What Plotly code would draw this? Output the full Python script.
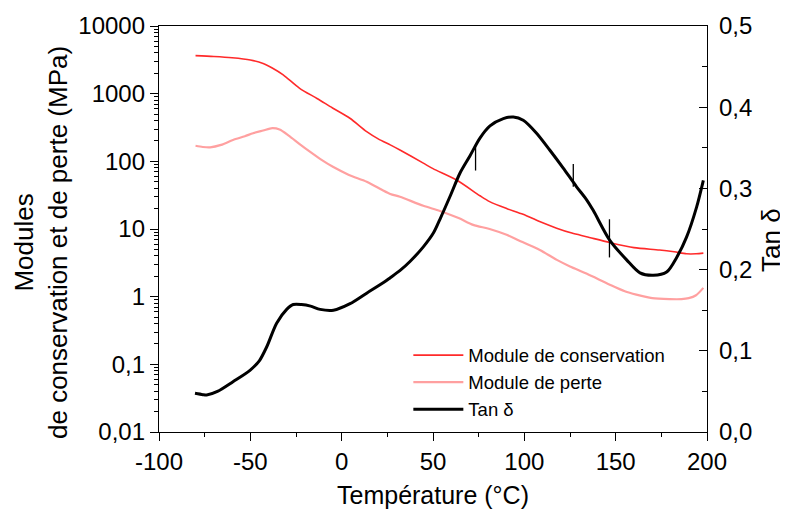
import plotly.graph_objects as go

# Storage modulus (MPa)
T_storage = [-80, -70, -60, -50, -43, -38, -32, -23, -13.5, -5, 4.5, 13.7, 20, 26.6, 31.9, 44.7, 50,
             62.9, 75.7, 81, 90.5, 99.3, 108, 117.7, 126, 134, 146.8, 160, 174, 182, 188.8, 194, 198]
E_storage = [3650, 3550, 3400, 3150, 2800, 2400, 1900, 1200, 850, 615, 433, 275, 215, 175, 147, 94, 78,
             53, 31, 25.4, 20, 16.5, 13, 10.3, 8.7, 7.7, 6.3, 5.3, 4.9, 4.6, 4.3, 4.3, 4.4]

# Loss modulus (MPa)
T_loss = [-80, -76, -72, -66, -59.5, -53, -48.5, -43, -38, -34, -29, -23, -17.4, -11, -4.8, 4, 13.7, 22,
          26.6, 31.9, 44.7, 53.8, 64, 72, 81, 90.3, 99, 108.5, 117.8, 125, 134, 146.8, 155, 161.3, 170,
          179.6, 186, 190, 194, 198]
E_loss = [170, 163, 161, 175, 207, 235, 260, 285, 309, 295, 240, 180, 139, 105, 83, 63, 50, 38,
          33, 30, 22, 18.5, 14.5, 11.5, 10, 8.2, 6.4, 4.9, 3.5, 2.8, 2.2, 1.5, 1.2, 1.07, 0.95,
          0.92, 0.92, 0.95, 1.05, 1.35]

# Tan delta
T_tan = [-80.3, -76, -73.9, -68, -59.5, -50.2, -45, -41, -35.6, -30.1, -26.5, -22, -17, -11.8, -4.5, 4.6,
         13.7, 22.9, 26.6, 32, 37.4, 44.7, 50.2, 53.8, 59.3, 64.8, 70.2, 75.7, 81.2,
         88.5, 94, 99.4, 106.7, 114, 121.3, 128.6, 134.1, 137.7, 146.8, 156, 163.3,
         170.6, 177.9, 183.4, 188.8, 194.3, 198]
tan_delta = [0.0476, 0.046, 0.0456, 0.050, 0.062, 0.076, 0.088, 0.105, 0.134, 0.151, 0.157, 0.157, 0.155,
             0.151, 0.150, 0.158, 0.171, 0.184, 0.190, 0.199, 0.210, 0.228, 0.245, 0.262, 0.290, 0.319,
             0.340, 0.362, 0.377, 0.386, 0.388, 0.384, 0.368, 0.347, 0.325, 0.302, 0.286,
             0.273, 0.236, 0.212, 0.196, 0.193, 0.197, 0.215, 0.240, 0.277, 0.310]

# Isolated noise spikes visible on the tan delta trace (temperature, low value, high value)
spike_T = [73.3, 126.8, 146.6]
spike_lo = [0.322, 0.302, 0.215]
spike_hi = [0.352, 0.330, 0.262]

x_tickvals = [-100, -50, 0, 50, 100, 150, 200]
x_ticktext = ["-100", "-50", "0", "50", "100", "150", "200"]
y_tickvals = [0.01, 0.1, 1, 10, 100, 1000, 10000]
y_ticktext = ["0,01", "0,1", "1", "10", "100", "1000", "10000"]
y2_tickvals = [0.0, 0.1, 0.2, 0.3, 0.4, 0.5]
y2_ticktext = ["0,0", "0,1", "0,2", "0,3", "0,4", "0,5"]

names = ["Module de conservation", "Module de perte", "Tan δ"]
colors = ["#ff2a2a", "#ffa0a0", "#000000"]

FONT = "Liberation Sans, Arial, sans-serif"

minor_log = [m * 10 ** e for e in range(-2, 4) for m in range(2, 10)]

spike_x, spike_y = [], []
for t, lo, hi in zip(spike_T, spike_lo, spike_hi):
    spike_x += [t, t, None]
    spike_y += [lo, hi, None]

fig = go.Figure()
fig.add_trace(go.Scatter(x=T_storage, y=E_storage, mode="lines", name=names[0],
                         line=dict(color=colors[0], width=1.6, shape="spline", smoothing=0.8), yaxis="y"))
fig.add_trace(go.Scatter(x=T_loss, y=E_loss, mode="lines", name=names[1],
                         line=dict(color=colors[1], width=2.2, shape="spline", smoothing=0.8), yaxis="y"))
fig.add_trace(go.Scatter(x=T_tan, y=tan_delta, mode="lines", name=names[2],
                         line=dict(color=colors[2], width=3, shape="spline", smoothing=0.8), yaxis="y2"))
fig.add_trace(go.Scatter(x=spike_x, y=spike_y, mode="lines", showlegend=False, hoverinfo="skip",
                         line=dict(color=colors[2], width=1.3), yaxis="y2"))

axis_common = dict(showgrid=False, zeroline=False, showline=True, linecolor="black", linewidth=1.3,
                   tickcolor="black", tickwidth=1.3, automargin=False,
                   tickfont=dict(family=FONT, size=24, color="black"))

# The page body has an 8px margin, so the figure is 780x505 to fill the 788x513 window.
fig.update_layout(
    template="none",
    width=780, height=505,
    margin=dict(l=151, r=81, t=18, b=81, autoexpand=False),
    paper_bgcolor="white", plot_bgcolor="white",
    font=dict(family=FONT, color="black"),
    showlegend=True,
    legend=dict(x=0.455, y=0.235, xanchor="left", yanchor="top", bgcolor="rgba(0,0,0,0)",
                itemwidth=50,
                font=dict(family=FONT, size=18.5, color="black"), tracegroupgap=0),
    xaxis=dict(range=[-100, 200], tickmode="array", tickvals=x_tickvals, ticktext=x_ticktext,
               ticks="outside", ticklen=8, mirror=True,
               minor=dict(ticks="outside", ticklen=4, dtick=25, tick0=-100, tickcolor="black",
                          tickwidth=1.3, showgrid=False),
               **axis_common),
    yaxis=dict(type="log", range=[-2, 4], tickmode="array", tickvals=y_tickvals, ticktext=y_ticktext,
               ticks="outside", ticklen=8,
               minor=dict(ticks="outside", ticklen=4, tickmode="array", tickvals=minor_log,
                          tickcolor="black", tickwidth=1.3, showgrid=False),
               **axis_common),
    yaxis2=dict(overlaying="y", side="right", range=[0, 0.5], tickmode="array", tickvals=y2_tickvals,
                ticktext=y2_ticktext, ticks="inside", ticklen=8, ticklabelstandoff=6,
                minor=dict(ticks="inside", ticklen=5, dtick=0.05, tick0=0, tickcolor="black",
                           tickwidth=1.3, showgrid=False),
                **axis_common),
    annotations=[
        dict(text="Température (°C)", xref="paper", yref="paper", x=0.5, y=-0.155,
             xanchor="center", yanchor="middle", showarrow=False,
             font=dict(family=FONT, size=25, color="black")),
        dict(text="Modules<br>de conservation et de perte (MPa)", xref="paper", yref="paper",
             x=-0.215, y=0.466, xanchor="center", yanchor="middle", textangle=-90, showarrow=False,
             font=dict(family=FONT, size=26, color="black")),
        dict(text="Tan δ", xref="paper", yref="paper", x=(771 - 159) / 548, y=(432 - 240) / 406,
             xanchor="center", yanchor="middle", textangle=-90, showarrow=False,
             font=dict(family=FONT, size=26, color="black")),
    ],
)

fig.write_html("out.html")
